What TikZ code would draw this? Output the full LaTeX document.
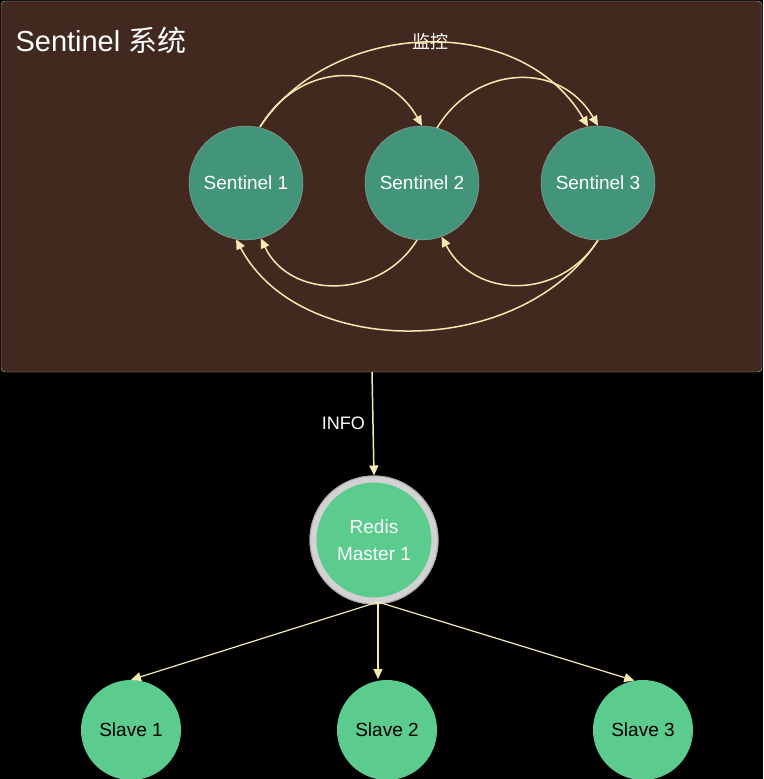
\documentclass[tikz,border=0pt]{standalone}
\usepackage{fontspec}
\setmainfont{Liberation Sans}
\newfontfamily\cjk{Noto Sans CJK SC}
\usetikzlibrary{arrows.meta}
\definecolor{boxbg}{HTML}{42291F}
\definecolor{sent}{HTML}{42957A}
\definecolor{lgreen}{HTML}{5BCB8E}
\definecolor{cream}{HTML}{F5EBB0}
\begin{document}
\begin{tikzpicture}[x=1pt,y=-1pt,
  sentnode/.style={circle,fill=sent,draw=gray!70,minimum size=114pt,inner sep=0pt,text=white,font=\fontsize{19}{22}\selectfont},
  slavenode/.style={circle,fill=lgreen,minimum size=100pt,inner sep=0pt,text=black,font=\fontsize{19}{22}\selectfont},
  arr/.style={draw=cream,line width=1.5pt,-{Triangle[length=10pt,width=9pt]}}]
\fill[black] (0,0) rectangle (763,779);
\useasboundingbox (0,0) rectangle (763,779);
\node[fill=boxbg,draw=gray!60,rounded corners=4pt,minimum width=761pt,minimum height=371pt,inner sep=0pt] (box) at (381.5,186.5) {};
\node[anchor=west,text=white,font=\fontsize{29}{32}\selectfont] (title) at (12,40) {Sentinel {\cjk 系统}};
\node[text=white,font=\cjk\fontsize{18}{20}\selectfont] (mon) at (430,42) {监控};
\node[sentnode] (s1) at (246,183) {Sentinel 1};
\node[sentnode] (s2) at (422,183) {Sentinel 2};
\node[sentnode] (s3) at (598,183) {Sentinel 3};
\node[circle,fill=lgreen,draw=gray!35,line width=7pt,minimum size=122pt,inner sep=0pt,text=white,align=center,font=\fontsize{19}{27}\selectfont] (m) at (374,540) {Redis\\Master 1};
\draw[gray!70,line width=0.8pt] (m) circle (64pt);
\node[slavenode] (l1) at (131,730) {Slave 1};
\node[slavenode] (l2) at (387,730) {Slave 2};
\node[slavenode] (l3) at (643,730) {Slave 3};
\coordinate (s1t) at (260,127);
\draw[arr] (s1t) .. controls (300,60) and (385,60) .. (s2.north);
\draw[arr] (s1t) .. controls (330,20) and (520,10) .. (s3.100);
\draw[arr] (437,128) .. controls (475,65) and (560,60) .. (s3.north);
\draw[arr] (s2.-95) .. controls (380,300) and (290,300) .. (s1.-75);
\draw[arr] (s3.-90) .. controls (560,300) and (475,300) .. (s2.-70);
\draw[arr] (s3.-90) .. controls (520,360) and (300,360) .. (s1.-100);
\draw[arr] (372,372) -- node[left=4pt,text=white,font=\fontsize{18}{20}\selectfont] {INFO} (m.north);
\coordinate (mb) at (378,602);
\draw[arr,line width=1.2pt] (mb) -- (l1.north);
\draw[arr,line width=1.2pt] (mb) -- (378,679);
\draw[arr,line width=1.2pt] (mb) -- (l3.100);
\end{tikzpicture}
\end{document}
